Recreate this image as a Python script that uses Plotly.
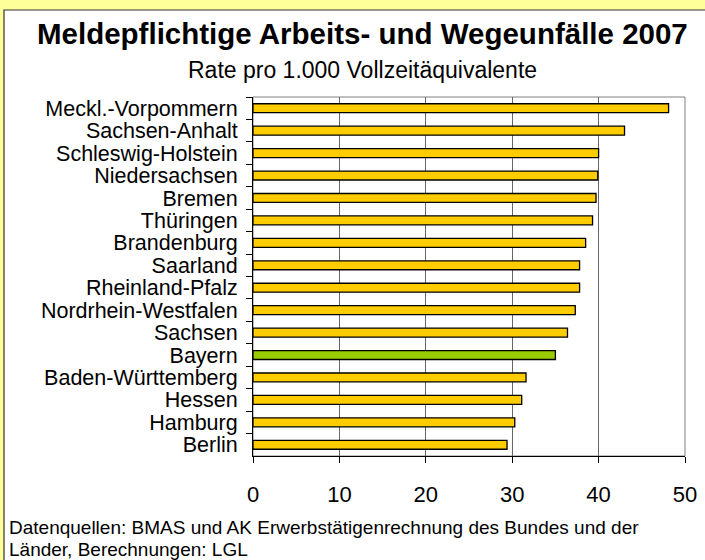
import plotly.graph_objects as go

# data
laender = [
    "Meckl.-Vorpommern", "Sachsen-Anhalt", "Schleswig-Holstein", "Niedersachsen",
    "Bremen", "Thüringen", "Brandenburg", "Saarland", "Rheinland-Pfalz",
    "Nordrhein-Westfalen", "Sachsen", "Bayern", "Baden-Württemberg", "Hessen",
    "Hamburg", "Berlin",
]
rate = [48.1, 43.0, 40.0, 39.9, 39.7, 39.3, 38.5, 37.8, 37.8, 37.3, 36.4, 35.0,
        31.6, 31.1, 30.3, 29.4]
highlight = "Bayern"
x_ticks = [0, 10, 20, 30, 40, 50]

W, H = 705, 560
ML, MR, MT, MB = 253, 20, 97, 104
PW, PH = W - ML - MR, H - MT - MB
FONT = "Liberation Sans, Arial, sans-serif"


def px_x(px):
    return (px - ML) / PW


def px_y(py):
    return 1 - (py - MT) / PH


colors = ["#99CC00" if l == highlight else "#FFCC00" for l in laender]

fig = go.Figure()
fig.add_trace(go.Bar(
    x=rate, y=laender, orientation="h",
    marker=dict(color=colors, line=dict(color="black", width=1.3)),
    width=0.4, hoverinfo="x+y",
))

fig.update_layout(
    width=W, height=H,
    margin=dict(l=ML, r=MR, t=MT, b=MB, autoexpand=False),
    paper_bgcolor="#FFFF99", plot_bgcolor="white",
    font=dict(family=FONT, color="black"),
    showlegend=False,
    xaxis=dict(
        range=[0, 50], tickvals=x_ticks, showgrid=True, gridcolor="#666666",
        gridwidth=1, zeroline=False, showline=True, linecolor="black",
        ticks="outside", ticklen=6, tickcolor="black", automargin=False,
        tickfont=dict(size=22, family=FONT), ticklabelstandoff=13,
    ),
    yaxis=dict(
        categoryorder="array", categoryarray=laender, autorange="reversed",
        tickmode="linear", dtick=1,
        tickson="boundaries", ticks="outside", ticklen=6, tickcolor="black",
        showline=True, linecolor="black", showgrid=False, automargin=False,
        tickfont=dict(size=21.5, family=FONT), ticklabelstandoff=10,
    ),
    shapes=[
        # white chart area inside the yellow frame
        dict(type="rect", xref="paper", yref="paper", layer="below",
             x0=px_x(4), x1=px_x(W + 5), y0=px_y(H + 5), y1=px_y(10),
             fillcolor="white", line=dict(color="#333333", width=1.2)),
        # plot area border
        dict(type="rect", xref="x domain", yref="y domain", layer="below",
             x0=0, x1=1, y0=0, y1=1, line=dict(color="#808080", width=1)),
    ],
    annotations=[
        dict(text="<b>Meldepflichtige Arbeits- und Wegeunfälle 2007</b>",
             xref="paper", yref="paper", x=px_x(362), y=px_y(34),
             xanchor="center", yanchor="middle", showarrow=False,
             font=dict(size=29.5, family=FONT)),
        dict(text="Rate pro 1.000 Vollzeitäquivalente",
             xref="paper", yref="paper", x=px_x(362), y=px_y(70),
             xanchor="center", yanchor="middle", showarrow=False,
             font=dict(size=23, family=FONT)),
        dict(text="Datenquellen: BMAS und AK Erwerbstätigenrechnung des Bundes und der",
             xref="paper", yref="paper", x=px_x(7), y=px_y(527),
             xanchor="left", yanchor="middle", showarrow=False,
             font=dict(size=19, family=FONT)),
        dict(text="Länder, Berechnungen: LGL",
             xref="paper", yref="paper", x=px_x(7), y=px_y(549),
             xanchor="left", yanchor="middle", showarrow=False,
             font=dict(size=19, family=FONT)),
    ],
)

# the page has a default body margin; remove it so the figure fills the window
fig.write_html("out.html", config={"displayModeBar": False},
               post_script="document.body.style.margin='0';")
